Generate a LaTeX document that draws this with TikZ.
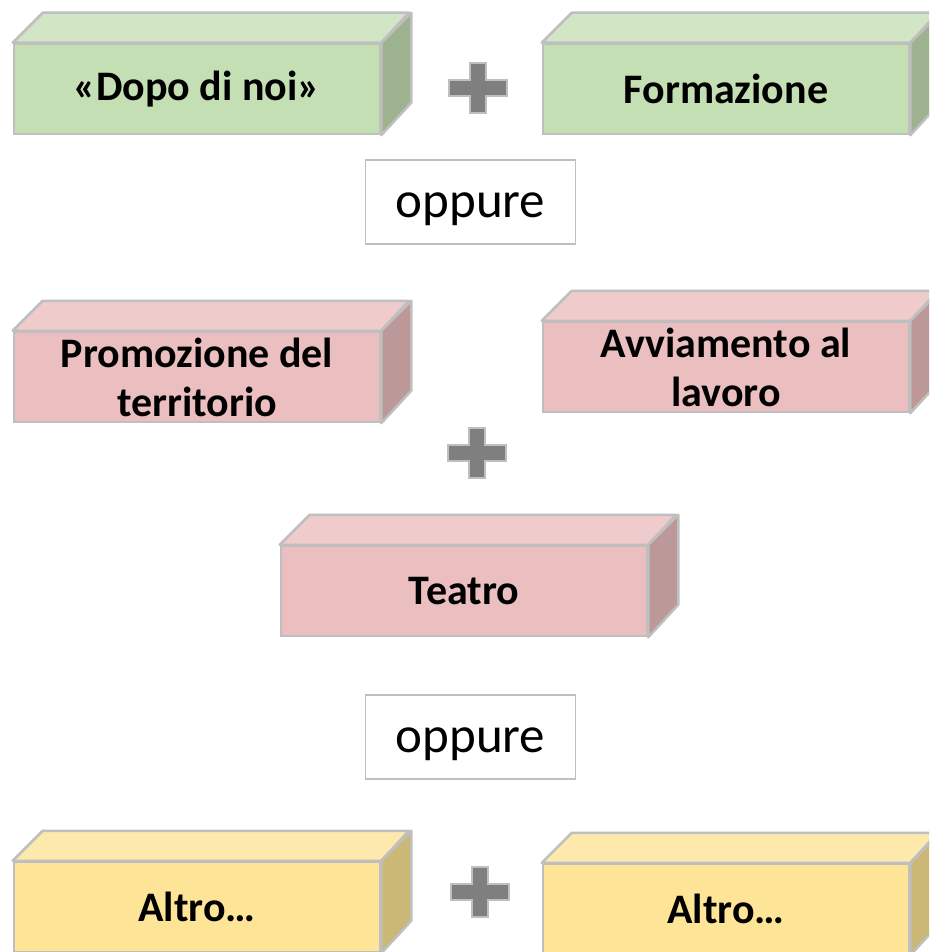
\documentclass[tikz,border=0pt]{standalone}
\usepackage{fontspec}
\setmainfont{Carlito}
\usetikzlibrary{positioning}

\definecolor{edgegray}{HTML}{BFBFBF}
\definecolor{plusgray}{HTML}{7F7F7F}
\definecolor{greenF}{HTML}{C4DFB4}
\definecolor{greenT}{HTML}{D2E6C6}
\definecolor{greenS}{HTML}{9DB38F}
\definecolor{redF}{HTML}{EBBEBF}
\definecolor{redT}{HTML}{F0CBCB}
\definecolor{redS}{HTML}{BC9898}
\definecolor{yelF}{HTML}{FEE497}
\definecolor{yelT}{HTML}{FEE9AD}
\definecolor{yelS}{HTML}{CBB776}

\tikzset{
  front/.style={draw=edgegray, line width=2.5pt, minimum width=366pt, minimum height=90pt,
    inner sep=0pt, align=center, font=\fontsize{42}{49}\selectfont\bfseries},
  face/.style={draw=edgegray, line width=2.5pt, line join=round},
  orbox/.style={draw=edgegray, line width=1.5pt, fill=white, minimum width=210pt,
    minimum height=84pt, inner sep=0pt, text height=30pt, text depth=0pt,
    font=\fontsize{51}{56}\selectfont},
  plusmark/.style={fill=plusgray, draw=edgegray, line width=2pt}
}

% top and right faces of a box
\newcommand{\boxfaces}[3]{
  \draw[face, fill=#2] (#1.north west) -- ++(30,-30) -- ++(366,0) -- (#1.north east) -- cycle;
  \draw[face, fill=#3] (#1.north east) -- ++(30,-30) -- ++(0,90) -- (#1.south east) -- cycle;
}
\newcommand{\plussign}[1]{
  \draw[plusmark] (#1) ++(-8,-25) -- ++(16,0) -- ++(0,17) -- ++(21,0) -- ++(0,16)
    -- ++(-21,0) -- ++(0,17) -- ++(-16,0) -- ++(0,-17) -- ++(-21,0) -- ++(0,-16)
    -- ++(21,0) -- cycle;
}

\begin{document}
\begin{tikzpicture}[x=1pt, y=-1pt]
  \useasboundingbox (0,0) rectangle (929,952);
  \clip (0,0) rectangle (929,952);

  % Boxes
  \node[front, fill=greenF] (dopo) at (197,89) {«Dopo di noi»};
  \boxfaces{dopo}{greenT}{greenS}
  \node[front, fill=greenF] (formazione) at (726,89) {Formazione};
  \boxfaces{formazione}{greenT}{greenS}

  \node[front, fill=redF] (promozione) at (197,377) {Promozione del\\territorio};
  \boxfaces{promozione}{redT}{redS}
  \node[front, fill=redF] (avviamento) at (726,367) {Avviamento al\\lavoro};
  \boxfaces{avviamento}{redT}{redS}
  \node[front, fill=redF] (teatro) at (464,591) {Teatro};
  \boxfaces{teatro}{redT}{redS}

  \node[front, fill=yelF] (altroA) at (197,907) {Altro…};
  \boxfaces{altroA}{yelT}{yelS}
  \node[front, fill=yelF] (altroB) at (726,909) {Altro…};
  \boxfaces{altroB}{yelT}{yelS}

  % oppure
  \node[orbox] (oppureA) at (470.5,202) {oppure};
  \node[orbox] (oppureB) at (470.5,737) {oppure};

  % Plus signs
  \coordinate (plusA) at (478,88);
  \coordinate (plusB) at (477,453);
  \coordinate (plusC) at (480,892);
  \foreach \p in {plusA,plusB,plusC}
    {\plussign{\p}}
\end{tikzpicture}
\end{document}
